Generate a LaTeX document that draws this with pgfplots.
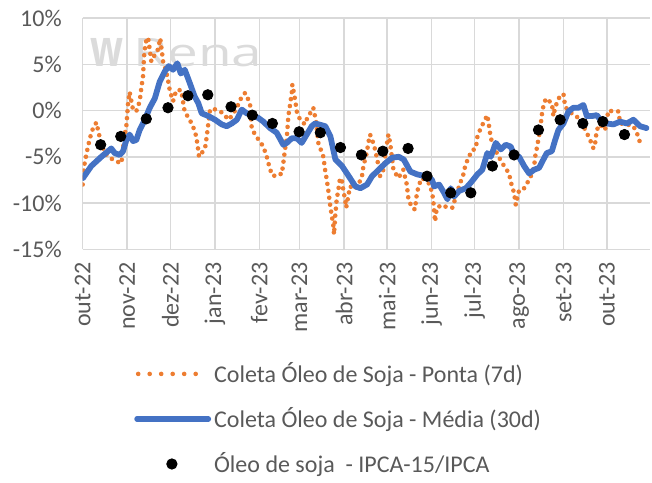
\documentclass[border=0pt]{standalone}
\usepackage{fontspec}
\setmainfont{Carlito}
\newfontfamily\wmfont{Open Sans}
\usepackage{pgfplots}
\usepackage{pgfplotstable}
\pgfplotsset{compat=1.18}
\definecolor{xlgray}{HTML}{595959}
\definecolor{xlgrid}{HTML}{D9D9D9}
\definecolor{xlorange}{HTML}{ED7D31}
\definecolor{xlblue}{HTML}{4472C4}

% day index counted from 01-Oct-2022 ; value in %
\pgfplotstableread{
d v
0 -8.0
1 -6.0
3 -4.4
5 -3.0
7.2 -1.9
9.5 -1.3
12 -3.0
15 -4.5
18 -5.0
21 -5.3
23.5 -5.5
27 -5.7
29 -2.8
30.4 -1.7
31 -0.5
31.6 0.8
32.7 2.0
35 0.1
37.3 -0.1
39.7 1.0
40.8 2.4
42 3.7
42.5 5.1
43 6.4
44.3 7.6
45.5 7.9
46.7 6.6
47.8 5.3
50.1 6.0
52.4 6.6
54 7.8
56 5.3
58.2 4.2
59.4 3.3
60.6 2.2
62.9 1.0
65.2 2.2
68.6 2.2
71 -0.1
74.5 -1.0
76.8 -1.7
79.1 -2.8
80.3 -4.1
81 -5.0
85.2 -4.1
86.4 -2.8
87.5 -1.4
88.7 0.1
91.0 0.2
95.6 -0.1
97.9 -0.3
101.4 -1.0
103.8 -0.6
107.3 0.3
110.8 1.5
113.1 1.9
116.5 0.8
117.7 -1.9
120.0 -2.6
125.8 -3.9
128.2 -5.0
130.5 -6.4
132.8 -7.1
136.3 -6.8
138.6 -6.9
139.7 -5.7
140.9 -4.2
142.1 -3.0
143.2 -0.6
144.4 0.6
145.6 1.9
146.0 2.8
147.9 1.2
149.1 -0.1
151.4 -1.0
154.8 -1.5
157.1 -0.5
158.4 -0.3
160.6 0.3
162.5 -1.2
164.1 -3.5
167.6 -5.0
168.8 -6.4
170.0 -7.5
171.1 -8.7
172.3 -10.2
173.4 -11.3
174.6 -12.5
175.0 -13.4
175.8 -11.5
176.9 -9.6
178.0 -8.6
179.2 -7.3
180.4 -7.5
181.5 -8.6
182.7 -9.6
183.5 -10.5
186.2 -8.2
190 -8.5
194.3 -7.3
195.5 -6.0
197.8 -4.6
198.9 -3.5
200.1 -2.6
201.3 -3.0
203.6 -4.2
205.9 -5.9
207.1 -7.1
209.4 -6.4
210.6 -5.0
211.8 -3.7
212.9 -2.6
214.1 -3.5
216.4 -6.4
219.8 -7.3
223.3 -6.4
225.7 -8.0
226.8 -9.5
229.2 -10.5
231.5 -10.7
232.2 -9.5
233.8 -8.2
236.1 -7.3
238.4 -7.5
241.9 -8.0
244.0 -9.5
245.4 -12.0
246.6 -10.5
250.5 -10.2
254.0 -10.5
257.5 -10.5
262.1 -8.2
265.1 -6.9
266.8 -5.7
269.1 -5.1
270.3 -4.4
273.8 -4.1
274.9 -2.8
277.2 -1.9
279.5 -1.2
281.8 -0.5
283.0 -1.7
284.2 -3.0
287.2 -4.2
290.0 -5.1
293.5 -6.0
296.9 -6.8
298.1 -7.7
300.4 -8.9
301.6 -10.2
303.9 -8.6
307.4 -8.4
309.7 -7.8
312.1 -7.1
314.4 -6.0
315.1 -5.0
316.7 -3.7
318.6 -2.0
320.2 0.1
322.5 1.3
326.7 0.8
327.8 -0.6
329.0 0.3
331.3 1.3
334.8 1.8
336.0 0.4
339.4 -0.2
342.9 -0.5
346.4 -1.0
348.7 -1.7
352.9 -3.0
355.7 -4.1
356.9 -3.5
358.0 -2.1
360.3 -1.5
363.8 -2.1
366.1 0.0
369.6 -0.1
373.1 -0.1
374.3 -1.4
378.9 -1.5
383.5 -1.7
385.9 -2.4
388.2 -3.5
}\ponta

\pgfplotstableread{
d v
0.2 -7.3
6.0 -6.0
13.0 -5.0
17.6 -4.4
19.9 -4.1
22.3 -4.6
25.8 -4.8
28.1 -4.4
30.4 -3.2
32.7 -2.6
35.0 -3.3
37.3 -3.2
39.7 -2.1
42.0 -1.4
44.3 -0.6
46.7 0.3
50.2 1.3
53.6 3.1
57.1 4.2
59.9 4.8
62.9 4.4
65.9 5.1
68.3 4.0
71.1 4.4
74.5 3.0
78.0 1.5
80.5 0.8
82.9 -0.3
87.5 -0.6
92.2 -1.0
96.8 -1.5
100.3 -1.7
103.8 -1.4
107.3 -1.0
110.8 0.1
114.2 -0.3
117.7 -0.5
122.3 -0.8
125.8 -1.2
130.5 -1.9
135.1 -2.4
139.7 -3.7
142.1 -3.5
145.6 -3.0
149.1 -3.0
152.5 -3.5
156.0 -2.6
159.5 -1.7
161.8 -1.4
164.4 -1.5
169.0 -1.7
172.5 -2.8
176.0 -5.3
180.6 -6.0
185.3 -7.1
189.9 -8.2
193.4 -8.4
198.0 -8.0
201.5 -7.1
206.2 -6.4
210.8 -5.7
215.5 -5.1
220.1 -5.0
223.6 -5.3
228.2 -6.6
232.9 -6.9
238.6 -7.1
243.3 -7.5
244.7 -8.2
248.2 -8.0
251.7 -8.9
254.0 -9.6
256.3 -8.4
258.6 -9.3
262.1 -8.7
266.8 -8.4
270.3 -7.8
274.9 -6.9
278.3 -6.4
281.8 -4.6
284.2 -5.0
287.7 -3.5
291.2 -4.2
294.6 -3.7
298.1 -3.9
300.4 -4.8
303.9 -5.0
307.4 -6.0
310.9 -6.8
314.4 -6.4
317.8 -6.2
320.8 -5.3
323.2 -4.6
326.7 -4.4
329.0 -3.2
331.3 -2.1
334.8 -1.4
338.3 -0.1
341.7 0.3
345.2 0.3
348.7 0.6
351.1 -0.6
354.6 -0.6
358.0 -0.5
361.5 -1.2
365.0 -1.4
369.6 -1.5
374.3 -1.2
378.9 -1.4
383.5 -1.0
388.2 -1.7
392.6 -1.9
}\media

\pgfplotstableread{
d v
12.5 -3.7
26.5 -2.8
44.3 -0.9
59.4 0.3
73.3 1.6
87.1 1.7
103.3 0.4
118.1 -0.5
132.1 -1.4
150.7 -2.3
165.5 -2.4
179.5 -4.0
194.1 -4.8
209.0 -4.4
226.6 -4.1
239.8 -7.1
256.3 -8.9
270.3 -8.9
285.3 -6.0
300.4 -4.8
317.4 -2.1
332.5 -1.0
348.3 -1.4
362.2 -1.2
377.3 -2.6
}\ipca

\begin{document}
\begin{tikzpicture}
\begin{axis}[
  scale only axis, width=283.6pt, height=115.65pt,
  xmin=0, xmax=395, ymin=-15, ymax=10,
  xtick={0,31,61,92,123,151,182,212,243,273,304,335,365},
  xticklabels={out-22,nov-22,dez-22,jan-23,fev-23,mar-23,abr-23,mai-23,jun-23,jul-23,ago-23,set-23,out-23},
  ytick={-15,-10,-5,0,5,10},
  yticklabels={-15\%,-10\%,-5\%,0\%,5\%,10\%},
  grid=major, major grid style={xlgrid, line width=0.75pt},
  axis line style={draw=none}, tick style={draw=none},
  tick label style={font=\fontsize{12}{14}\selectfont, text=xlgray},
  xticklabel style={rotate=90, anchor=east, inner sep=0pt},
  yticklabel style={anchor=east, inner sep=0pt},
  xticklabel shift=6.4pt, yticklabel shift=10.3pt,
  clip mode=individual,
  legend style={draw=none, fill=none, at={(axis description cs:0.0797,-0.457)}, anchor=north west,
    font=\fontsize{12}{14}\selectfont, text=xlgray, row sep=8pt, nodes={inner sep=1.5pt}},
  legend cell align=left,
]
\node[anchor=base west, inner sep=0pt, text=gray!28] at (axis description cs:0.013,0.79)
  {\wmfont\bfseries\fontsize{25.7}{26}\selectfont\scalebox{0.75}[1]{w}};
\node[anchor=base west, inner sep=0pt, text=gray!28] at (axis description cs:0.089,0.79)
  {\wmfont\fontsize{19.6}{20}\selectfont\scalebox{1.4}[1]{Rena}};

\addplot[xlorange, line width=2.3pt, line cap=round, line join=round, dash pattern=on 0pt off 3.5pt,
  legend image code/.code={\draw[xlorange, line width=2.3pt, line cap=round, dash pattern=on 0pt off 5.75pt] (0.65pt,0pt) -- (31.7pt,0pt);}]
  table[x=d, y=v] {\ponta};
\addlegendentry{Coleta Óleo de Soja - Ponta (7d)}

\addplot[xlblue, line width=2.9pt, line join=round, line cap=round,
  legend image code/.code={\draw[xlblue, line width=2.6pt, line cap=round] (0pt,0pt) -- (35.8pt,0pt);}]
  table[x=d, y=v] {\media};
\addlegendentry{Coleta Óleo de Soja - Média (30d)}

\addplot[only marks, mark=*, mark size=2.6pt, black,
  legend image code/.code={\fill[black] (17.5pt,0pt) circle (2.6pt); \path[draw=none] (0pt,0pt) -- (35.8pt,0pt);}]
  table[x=d, y=v] {\ipca};
\addlegendentry{Óleo de soja~ - IPCA-15/IPCA}

\path (axis description cs:-0.1458,-0.9888) rectangle (axis description cs:1.0037,1.0778);
\end{axis}
\end{tikzpicture}
\end{document}
